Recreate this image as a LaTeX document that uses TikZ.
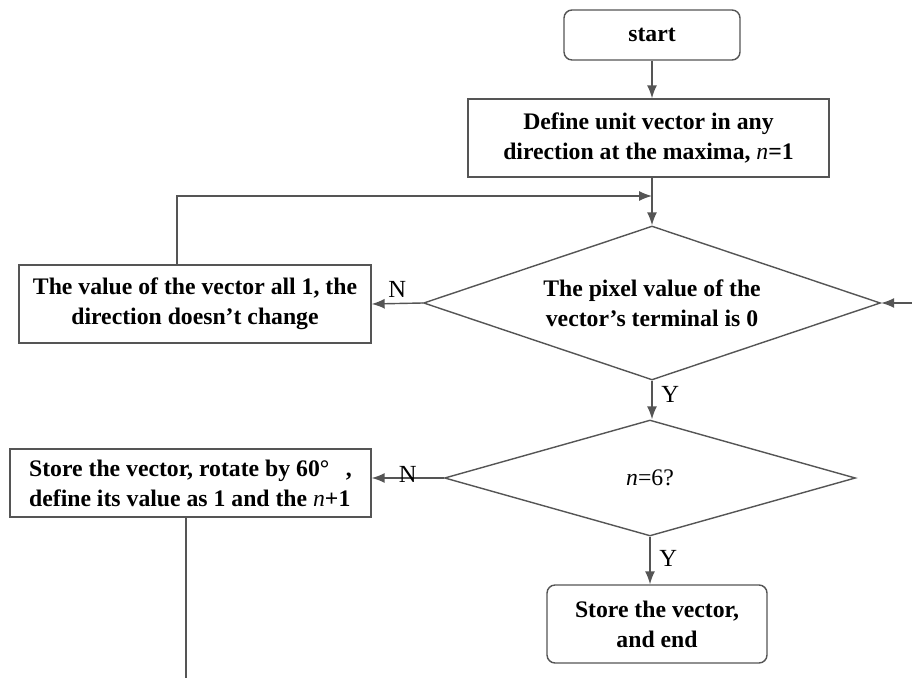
\documentclass[tikz,border=0pt]{standalone}
\usepackage{fontspec}
\setmainfont{Liberation Serif}
\usetikzlibrary{shapes.geometric,arrows.meta}

\definecolor{linegray}{HTML}{555555}
\newcommand{\vn}{{\mdseries\itshape n}}

\tikzset{
  box/.style={draw=linegray,line width=0.8pt,rectangle,inner sep=2pt,
    font=\fontsize{13.5}{17}\selectfont\bfseries,align=center},
  rbox/.style={box,rounded corners=0.16cm},
  test/.style={box,diamond,inner sep=0pt},
  lbl/.style={font=\fontsize{14}{16}\selectfont,inner sep=1pt},
  flow/.style={draw=linegray,line width=0.8pt,-{Latex[length=0.26cm,width=0.2cm]}}
}

\begin{document}
\begin{tikzpicture}[x=0.02cm,y=-0.02cm]
\useasboundingbox (0,0) rectangle (912,678);

\node[rbox,minimum width=3.52cm,minimum height=1cm] (start) at (652,35) {start};
\node[box,minimum width=7.22cm,minimum height=1.56cm] (define) at (648.5,138)
  {Define unit vector in any\\direction at the maxima, \vn=1};
\node[test,aspect=3,minimum width=9.14cm,minimum height=3.08cm] (pixel) at (652,303)
  {The pixel value of the\\vector’s terminal is 0};
\node[box,minimum width=7.04cm,minimum height=1.56cm] (keep) at (195,304)
  {The value of the vector all 1, the\\direction doesn’t change};
\node[test,aspect=3.5,minimum width=8.22cm,minimum height=2.32cm] (count) at (650,478)
  {\mdseries\itshape n\upshape=6?};
\node[box,minimum width=7.22cm,minimum height=1.36cm,align=left] (rotate) at (190.5,483)
  {Store the vector, rotate by 60°\hspace{0.7em},\\define its value as 1 and the \vn+1};
\node[rbox,minimum width=4.4cm,minimum height=1.56cm] (finish) at (657,624)
  {Store the vector,\\and end};

\coordinate (loop) at (177,196);
\coordinate (join) at (652,196);
\coordinate (inR) at (912,303);
\coordinate (outB) at (186,678);

%\draw[help lines] (0,0) grid[step=1cm] (912,678);
\draw[flow] (start.south) -- (start.south |- define.north);
\draw[flow] (define.south -| pixel) -- (pixel.north);
\draw[flow] (pixel.south) -- node[lbl,right=4pt,pos=.35] {Y} (pixel.south |- count.north);
\draw[flow] (count.south) -- node[lbl,right=4pt,pos=.45] {Y} (count.south |- finish.north);
\draw[flow] (pixel.west) -- node[lbl,above=2pt] {N} (keep.east);
\draw[flow] (count.west) -- node[lbl,anchor=south,yshift=-4pt] {N} (count.west -| rotate.east);
\draw[flow] (loop |- keep.north) -- (loop) -- (join);
\draw[flow] (inR) -- (pixel.east);
\draw[draw=linegray,line width=0.8pt] (outB |- rotate.south) -- (outB);
\end{tikzpicture}
\end{document}
